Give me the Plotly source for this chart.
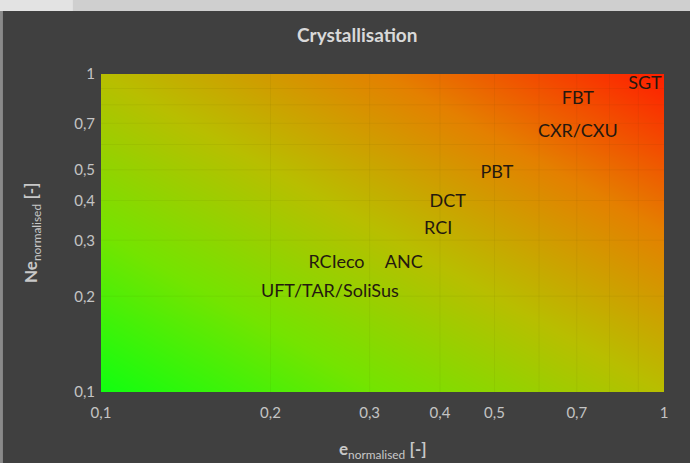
import numpy as np
import plotly.graph_objects as go

# ---- data ----
labels = ["SGT", "FBT", "CXR/CXU", "PBT", "DCT", "RCI", "RCIeco", "ANC", "UFT/TAR/SoliSus"]
e_norm = [0.925, 0.703, 0.703, 0.505, 0.413, 0.397, 0.262, 0.345, 0.255]
ne_norm = [0.930, 0.834, 0.657, 0.488, 0.393, 0.325, 0.253, 0.253, 0.205]

tick_vals = [0.1, 0.2, 0.3, 0.4, 0.5, 0.7, 1]
tick_text = ["0,1", "0,2", "0,3", "0,4", "0,5", "0,7", "1"]
grid_vals = [0.2, 0.3, 0.4, 0.5, 0.6, 0.7, 0.8, 0.9]

# ---- background gradient (style only) ----
N = 80
edges = np.logspace(-1, 0, N + 1)
frac = (np.arange(N) + 0.5) / N
zgrid = frac[None, :] + frac[:, None]

colorscale = [
    [0.0, "#10ff10"],
    [0.25, "#74e400"],
    [0.5, "#b8be00"],
    [0.75, "#e48000"],
    [1.0, "#ff1e00"],
]

fig = go.Figure()
fig.add_trace(go.Heatmap(
    x=edges, y=edges, z=zgrid, colorscale=colorscale, zmin=0, zmax=2,
    showscale=False, hoverinfo="skip", zsmooth="best",
))
fig.add_trace(go.Scatter(
    x=e_norm, y=ne_norm, mode="text", text=labels,
    textfont=dict(family="Lato", size=18, color="#24180f"),
    textposition="middle center", hoverinfo="text",
))

axis_common = dict(
    type="log", range=[-1, 0], tickvals=tick_vals, ticktext=tick_text,
    showgrid=False, zeroline=False, showline=False, ticks="",
    tickfont=dict(family="Lato", size=15, color="#c4c4c4"),
)
fig.update_xaxes(**axis_common, ticklabelstandoff=10)
fig.update_yaxes(**axis_common, ticklabelstandoff=5)

shapes = []
for v in grid_vals:
    shapes.append(dict(type="line", xref="x", yref="paper", x0=v, x1=v, y0=0, y1=1,
                       line=dict(color="rgba(60,60,0,0.06)", width=1), layer="above"))
    shapes.append(dict(type="line", xref="paper", yref="y", x0=0, x1=1, y0=v, y1=v,
                       line=dict(color="rgba(60,60,0,0.06)", width=1), layer="above"))
# window decoration: light top band and left strip
shapes.append(dict(type="rect", xref="paper", yref="paper", x0=-0.2, x1=1.1, y0=1.198, y1=1.25,
                   fillcolor="#cfcfcf", line=dict(width=0), layer="below"))
shapes.append(dict(type="rect", xref="paper", yref="paper", x0=-0.2, x1=-0.05, y0=1.198, y1=1.25,
                   fillcolor="rgba(240,240,240,0.6)", line=dict(width=0), layer="below"))
shapes.append(dict(type="rect", xref="paper", yref="paper", x0=-0.2, x1=-0.1742, y0=-0.3, y1=1.198,
                   fillcolor="#8a8a8a", line=dict(width=0), layer="below"))

annotations = [
    dict(text="<b>Crystallisation</b>", xref="paper", yref="paper", x=(357 - 101) / 563, y=1 + (74 - 34) / 318,
         showarrow=False, font=dict(family="Lato", size=19, color="#d9d9d9"), xanchor="center", yanchor="middle"),
    dict(text="<b>e</b><sub>normalised</sub> <b>[-]</b>", xref="paper", yref="paper", x=0.5, y=(392 - 450) / 318,
         showarrow=False, font=dict(family="Lato", size=17, color="#c8c8c8"), xanchor="center", yanchor="middle"),
    dict(text="<b>Ne</b><sub>normalised</sub> <b>[-]</b>", xref="paper", yref="paper", x=(32 - 101) / 563, y=0.5,
         showarrow=False, textangle=-90, font=dict(family="Lato", size=17, color="#c8c8c8"),
         xanchor="center", yanchor="middle"),
]

fig.update_layout(
    width=690, height=463,
    margin=dict(l=101, r=26, t=74, b=71),
    paper_bgcolor="#404040", plot_bgcolor="#404040",
    showlegend=False, shapes=shapes, annotations=annotations,
)

fig.write_html("out.html", config={"displayModeBar": False},
               post_script="document.body.style.margin='0px';document.body.style.overflow='hidden';")
